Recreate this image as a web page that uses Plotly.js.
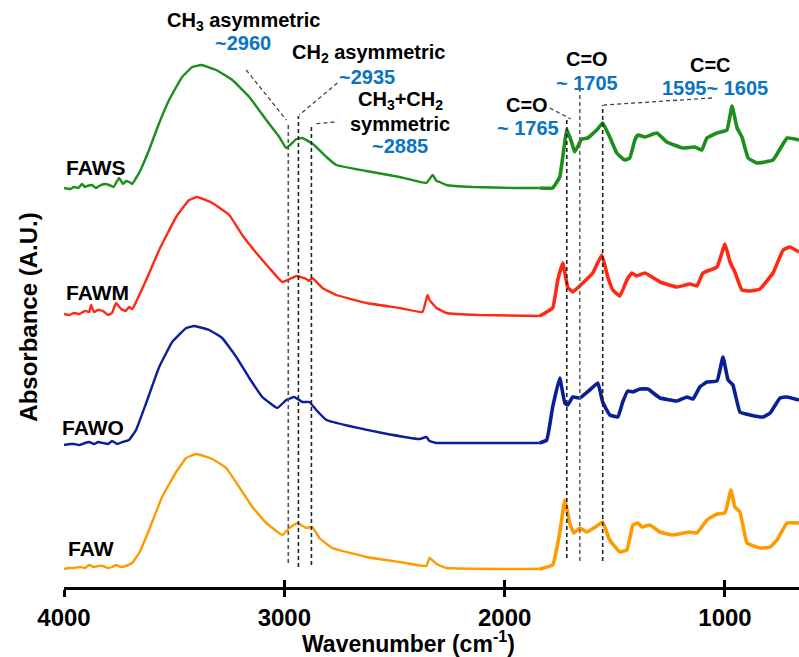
<!DOCTYPE html>
<html>
<head>
<meta charset="utf-8">
<script src="https://cdn.plot.ly/plotly-3.0.1.min.js"></script>
<style>html,body{margin:0;padding:0;background:#fff;}#chart{width:799px;height:657px;}</style>
</head>
<body>
<div id="chart"></div>
<script>
// ---- Data (stacked display values, a.u.) ----
const seriesNames = ['FAWS', 'FAWM', 'FAWO', 'FAW'];
const seriesColors = ['#1c8e1c', '#ff2a14', '#0a1e96', '#ff9a00'];

const wn_FAWS = [4000,3970,3955,3935,3918,3905,3895,3873,3855,3841,3815,3795,3775,3764,3750,3732,3718,3705,3690,3673,3659,3614,3568,3523,3464,3418,3377,3309,3236,3159,3082,3023,2991,2945,2918,2877,2855,2809,2764,2627,2477,2355,2327,2309,2295,2264,2145,1950,1841,1782,1750,1732,1718,1695,1682,1650,1623,1582,1555,1523,1491,1455,1432,1409,1395,1364,1309,1264,1191,1136,1105,1082,1036,991,968,945,923,895,855,782,718,664];
const ab_FAWS = [3.99,3.98,4.00,3.99,4.03,4.00,4.01,4.02,3.99,4.01,4.03,4.02,4.00,4.04,4.09,4.03,4.06,4.05,4.03,4.09,4.14,4.37,4.64,4.87,5.10,5.20,5.22,5.17,5.07,4.90,4.67,4.50,4.39,4.48,4.49,4.44,4.40,4.30,4.22,4.16,4.10,4.04,4.12,4.06,4.05,4.02,4.00,3.99,3.99,3.99,4.10,4.37,4.58,4.44,4.35,4.48,4.49,4.57,4.64,4.50,4.34,4.27,4.29,4.47,4.52,4.50,4.54,4.45,4.39,4.40,4.37,4.49,4.54,4.57,4.81,4.59,4.50,4.29,4.24,4.27,4.49,4.47];

const wn_FAWM = [4000,3975,3955,3930,3905,3886,3877,3864,3845,3823,3800,3782,3764,3741,3720,3705,3690,3673,3627,3568,3491,3432,3395,3327,3250,3191,3127,3068,3009,2945,2900,2889,2873,2827,2764,2627,2477,2373,2350,2341,2309,2264,2114,1841,1782,1759,1736,1714,1691,1645,1600,1559,1532,1509,1477,1445,1423,1400,1364,1295,1218,1159,1127,1100,1036,1000,977,955,923,886,841,782,736,705,664];
const ab_FAWM = [2.73,2.72,2.74,2.73,2.76,2.75,2.82,2.75,2.77,2.76,2.72,2.74,2.84,2.78,2.76,2.80,2.78,2.85,3.07,3.37,3.70,3.87,3.90,3.84,3.72,3.52,3.34,3.19,3.05,3.11,3.08,3.06,3.09,2.99,2.92,2.84,2.79,2.75,2.92,2.87,2.79,2.74,2.72,2.71,2.79,3.07,3.24,3.00,2.95,3.04,3.14,3.32,3.10,2.97,2.91,3.07,3.14,3.11,3.14,3.05,3.00,3.03,3.01,3.14,3.20,3.43,3.25,3.15,2.97,2.96,2.98,3.14,3.37,3.40,3.35];

const wn_FAWO = [4000,3970,3955,3930,3905,3886,3864,3845,3823,3800,3782,3759,3735,3705,3673,3627,3568,3509,3445,3409,3341,3282,3218,3159,3100,3032,2991,2955,2918,2886,2855,2809,2705,2555,2386,2355,2341,2309,2250,1841,1809,1782,1750,1727,1714,1691,1659,1614,1577,1555,1523,1486,1464,1441,1418,1386,1350,1295,1218,1173,1145,1114,1082,1036,1009,986,964,932,886,827,795,750,718,664];
const ab_FAWO = [1.42,1.43,1.43,1.42,1.44,1.45,1.43,1.45,1.44,1.43,1.46,1.43,1.45,1.47,1.57,1.84,2.20,2.45,2.59,2.61,2.57,2.49,2.30,2.09,1.90,1.79,1.87,1.90,1.85,1.85,1.77,1.67,1.61,1.54,1.48,1.50,1.46,1.44,1.44,1.44,1.47,1.80,2.09,1.84,1.82,1.90,1.89,1.97,2.04,1.85,1.72,1.70,1.85,1.96,1.95,1.98,1.98,1.89,1.86,1.90,1.88,2.00,2.05,2.06,2.30,2.07,2.02,1.75,1.72,1.70,1.74,1.89,1.90,1.87];

const wn_FAW = [4000,3975,3955,3930,3905,3886,3864,3845,3823,3800,3782,3764,3741,3720,3691,3659,3614,3555,3491,3445,3400,3327,3264,3205,3145,3082,3009,2977,2941,2900,2873,2841,2782,2627,2477,2355,2341,2309,2264,1841,1782,1750,1727,1705,1686,1659,1627,1582,1555,1523,1477,1445,1418,1395,1377,1341,1295,1236,1159,1127,1082,1036,1000,973,955,932,900,841,795,764,718,664];
const ab_FAW = [0.18,0.19,0.19,0.20,0.19,0.22,0.20,0.21,0.21,0.19,0.20,0.22,0.20,0.21,0.24,0.34,0.57,0.90,1.15,1.29,1.33,1.28,1.19,1.00,0.80,0.64,0.52,0.59,0.64,0.59,0.60,0.49,0.39,0.30,0.25,0.21,0.29,0.23,0.19,0.18,0.22,0.54,0.87,0.64,0.54,0.59,0.55,0.61,0.65,0.47,0.35,0.37,0.62,0.64,0.60,0.62,0.55,0.52,0.55,0.54,0.67,0.73,0.74,0.97,0.80,0.75,0.44,0.39,0.40,0.47,0.64,0.64];

const tickVals = [4000, 3000, 2000, 1000];
// marked band positions (wavenumber) for the dashed guide lines
const bandWn = [2982, 2936, 2877, 1718, 1659, 1555];

// ---- Build traces ----
const FONT = '"Liberation Sans", Arial, sans-serif';
const YMAX = 5.40;
const allWn = [wn_FAWS, wn_FAWM, wn_FAWO, wn_FAW];
const allAb = [ab_FAWS, ab_FAWM, ab_FAWO, ab_FAW];
const CUT = 1841;
const traces = [];
allWn.forEach((wn, i) => {
  const ab = allAb[i];
  const hx = [], hy = [], lx = [], ly = [];
  wn.forEach((w, k) => {
    if (w >= CUT) { hx.push(w); hy.push(ab[k]); }
    if (w <= CUT) { lx.push(w); ly.push(ab[k]); }
  });
  traces.push({x: hx, y: hy, name: seriesNames[i], mode: 'lines', showlegend: false,
    line: {color: seriesColors[i], width: 2.4, shape: 'spline', smoothing: 0.3}, hoverinfo: 'x+y'});
  traces.push({x: lx, y: ly, name: seriesNames[i], mode: 'lines', showlegend: false,
    line: {color: seriesColors[i], width: 3.6, shape: 'spline', smoothing: 0.3}, hoverinfo: 'x+y'});
});
// helper trace so the overlay axis (upward tick halves) is drawn
traces.push({x: [tickVals[0]], y: [null], xaxis: 'x2', yaxis: 'y', mode: 'lines', showlegend: false, hoverinfo: 'skip'});

// ---- Guide lines ----
const guideTop = [4.62, 4.71, 4.61, 4.69, 4.99, 4.82];
const guideBot = [0.24, 0.20, 0.22, 0.29, 0.26, 0.26];
const guideCol = ['#555', '#222', '#222', '#222', '#666', '#222'];
const shapes = bandWn.map((w, i) => ({
  type: 'line', xref: 'x', yref: 'y', x0: w, x1: w, y0: guideBot[i], y1: guideTop[i],
  line: {color: guideCol[i], width: 1.6, dash: '4px,3px'}
}));
const leaders = [
  [3173, 5.17, 2991, 4.67],
  [2759, 5.04, 2932, 4.72],
  [2773, 4.65, 2868, 4.63],
  [1795, 4.79, 1700, 4.68],
  [1059, 4.89, 1550, 4.82]
];
leaders.forEach(l => shapes.push({type: 'line', xref: 'x', yref: 'y', x0: l[0], y0: l[1], x1: l[2], y1: l[3],
  line: {color: '#444', width: 1.3, dash: '4px,3px'}}));

// ---- Annotations ----
const BLUE = '#0a74c4';
function txt(x, y, t, color, size, anchor, xpaper) {
  return {x: x, y: y / YMAX, xref: xpaper ? 'paper' : 'x', yref: 'paper', text: '<b>' + t + '</b>', showarrow: false,
    xanchor: anchor || 'center', yanchor: 'middle', font: {family: FONT, size: size, color: color}};
}
const annotations = [
  txt(3186, 5.66, 'CH<sub>3</sub> asymmetric', '#000', 20),
  txt(3186, 5.44, '~2960', BLUE, 20),
  txt(2618, 5.34, 'CH<sub>2</sub> asymmetric', '#000', 20),
  txt(2623, 5.10, '~2935', BLUE, 20),
  txt(2473, 4.87, 'CH<sub>3</sub>+CH<sub>2</sub>', '#000', 20),
  txt(2473, 4.63, 'symmetric', '#000', 20),
  txt(2473, 4.41, '~2885', BLUE, 20),
  txt(1900, 4.82, 'C=O', '#000', 20),
  txt(1895, 4.59, '~ 1765', BLUE, 20),
  txt(1627, 5.28, 'C=O', '#000', 20),
  txt(1627, 5.04, '~ 1705', BLUE, 20),
  txt(1064, 5.22, 'C=C', '#000', 20),
  txt(1045, 4.99, '1595~ 1605', BLUE, 20),
  txt(4000, 4.20, 'FAWS', '#000', 21, 'left'),
  txt(4000, 2.95, 'FAWM', '#000', 21, 'left'),
  txt(-0.006, 1.59, 'FAWO', '#000', 21, 'left', true),
  txt(3991, 0.39, 'FAW', '#000', 21, 'left'),
  // x-axis title (placed as in the reference, slightly left of the axis centre)
  {x: 0.469, y: -0.102, xref: 'paper', yref: 'paper', showarrow: false, xanchor: 'center', yanchor: 'middle',
   text: '<b>Wavenumber (cm<sup>-1</sup>)</b>', font: {family: FONT, size: 23, color: '#000'}}
];

const layout = {
  width: 799, height: 657,
  margin: {l: 64, r: 0, t: 47, b: 70},
  paper_bgcolor: '#fff', plot_bgcolor: '#fff',
  showlegend: false,
  font: {family: FONT, color: '#000'},
  xaxis: {
    range: [4000, 664], autorange: false,
    tickvals: tickVals, ticks: 'outside', ticklen: 7, tickwidth: 3, tickcolor: '#000',
    showline: true, linewidth: 3, linecolor: '#000',
    showgrid: false, zeroline: false,
    tickfont: {family: FONT, size: 24, color: '#000', weight: 'bold'}
  },
  xaxis2: {
    overlaying: 'x', anchor: 'y', side: 'bottom',
    range: [4000, 664], autorange: false,
    tickvals: tickVals, ticks: 'inside', ticklen: 7, tickwidth: 3, tickcolor: '#000',
    showticklabels: false, showline: false, showgrid: false, zeroline: false
  },
  yaxis: {
    range: [0, YMAX], autorange: false,
    showticklabels: false, ticks: '', showline: false, showgrid: false, zeroline: false,
    title: {text: '<b>Absorbance (A.U.)</b>', font: {family: FONT, size: 24, color: '#000'}, standoff: 18}
  },
  shapes: shapes,
  annotations: annotations
};

Plotly.newPlot('chart', traces, layout, {displayModeBar: false, staticPlot: true});
</script>
</body>
</html>
